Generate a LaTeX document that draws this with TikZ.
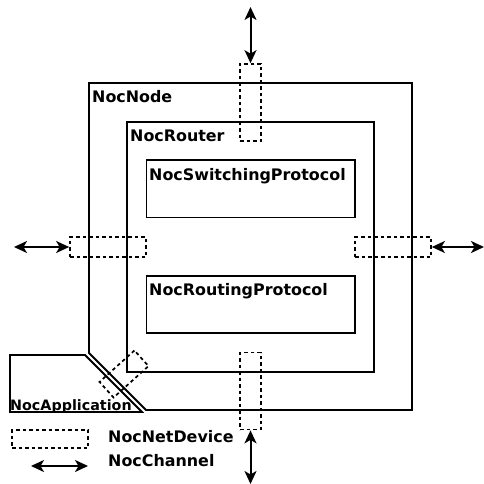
\documentclass[tikz,border=0pt]{standalone}
\usepackage{fontspec}
\setmainfont{DejaVu Sans}
\usetikzlibrary{arrows.meta}
\begin{document}
\begin{tikzpicture}[x=1pt,y=-1pt,
  solidline/.style={line width=1.8pt},
  devbox/.style={draw,line width=1.7pt,dash pattern=on 3.5pt off 3pt,inner sep=0pt,minimum width=#1},
  channel/.style={line width=2pt,{Stealth[length=13pt,width=12pt,inset=3.5pt]}-{Stealth[length=13pt,width=12pt,inset=3.5pt]}},
  lab/.style={font=\bfseries\fontsize{15.9}{18}\selectfont,anchor=base west,inner sep=0pt},
  smalllab/.style={font=\bfseries\fontsize{14.3}{16}\selectfont,anchor=base west,inner sep=0pt}]
\useasboundingbox (0,0) rectangle (484,484);
% NocNode outline
\draw[solidline] (89,83) -- (412,83) -- (412,410) -- (146,410) -- (89,353) -- cycle;
% NocApplication outline
\draw[solidline] (10,355) -- (85,355) -- (142,412) -- (10,412) -- cycle;
% NocRouter
\draw[solidline] (127,122) rectangle (374,372);
% protocols
\draw[solidline] (146.5,160) rectangle (355,217.5);
\draw[solidline] (146.5,276) rectangle (355,333);
% labels
\node[lab] (lnode) at (92,102.5) {NocNode};
\node[lab] (lrouter) at (130,141) {NocRouter};
\node[lab] (lsw) at (149,180) {NocSwitchingProtocol};
\node[lab] (lrt) at (149,295) {NocRoutingProtocol};
\node[smalllab] (lapp) at (10,410.5) {NocApplication};
% net devices
\node[devbox=20.5pt,minimum height=77pt] (dtop) at (250.5,102.5) {};
\node[devbox=20.5pt,minimum height=77pt] (dbot) at (250.5,391) {};
\node[devbox=76pt,minimum height=20pt] (dleft) at (108,247) {};
\node[devbox=76pt,minimum height=20pt] (dright) at (393,247) {};
\node[devbox=47pt,minimum height=21pt,rotate=42] (dapp) at (124,374) {};
% channels
\coordinate (ctop) at (250.5,7);
\coordinate (cbot) at (250.5,484);
\coordinate (cleft) at (14,247);
\coordinate (cright) at (484,247);
\draw[channel] (ctop) -- (dtop.north);
\draw[channel] (dbot.south) -- (cbot);
\draw[channel] (cleft) -- (dleft.west);
\draw[channel] (dright.east) -- (cright);
% legend
\node[devbox=76pt,minimum height=18pt] (legdev) at (50,439) {};
\node[lab] (legdevt) at (108,442) {NocNetDevice};
\coordinate (lega) at (31,466);
\coordinate (legb) at (88,466);
\draw[channel] (lega) -- (legb);
\node[lab] (legcht) at (108,466.5) {NocChannel};
\end{tikzpicture}
\end{document}
